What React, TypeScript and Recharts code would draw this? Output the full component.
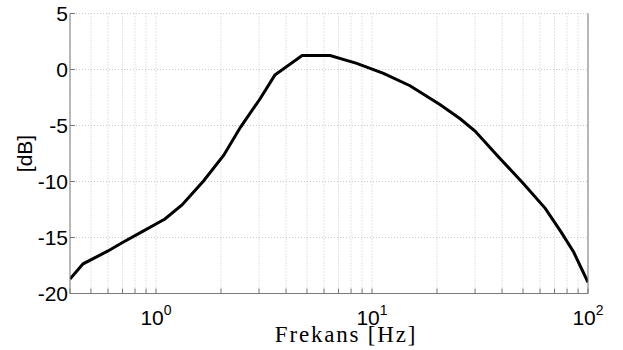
import { CartesianGrid, Label, Line, LineChart, XAxis, YAxis } from "recharts";

// frequency response
const freqHz = [
  0.4, 0.46, 0.6, 0.7, 0.86, 1.0, 1.1, 1.32, 1.66, 2.06, 2.46, 3.04, 3.55, 4.75, 6.4, 8.5,
  11.3, 15, 20.7, 25.6, 30, 37.9, 50.3, 63.4, 75, 85.8, 100,
];
const gainDb = [
  -18.7, -17.35, -16.2, -15.45, -14.5, -13.8, -13.35, -12.1, -9.95, -7.65, -5.16, -2.59, -0.5,
  1.25, 1.25, 0.55, -0.35, -1.45, -3.15, -4.4, -5.5, -7.65, -10.2, -12.4, -14.5, -16.3, -19,
];

const xTicks = [
  0.4, 0.5, 0.6, 0.7, 0.8, 0.9, 1, 2, 3, 4, 5, 6, 7, 8, 9, 10, 20, 30, 40, 50, 60, 70, 80, 90, 100,
];
const decadeExp: Record<number, string> = { 1: "0", 10: "1", 100: "2" };
const yTicks = [-20, -15, -10, -5, 0, 5];

const data = freqHz.map((f, i) => ({ f, db: gainDb[i] }));

const axisColor = "#7a7a7a";
const sans = "'Liberation Sans', Arial, sans-serif";

function DecadeTick(props: any) {
  const { x, y, payload } = props;
  const exp = decadeExp[payload.value];
  if (exp === undefined) return <g />;
  return (
    <text x={x} y={y + 31} textAnchor="middle" fontFamily={sans} fontSize={21} fill="#000">
      10
      <tspan dy={-10} fontSize={14}>
        {exp}
      </tspan>
    </text>
  );
}

const NoTick = () => <g />;

export default function App() {
  return (
    <div>
      <style>{`body{margin:0}`}</style>
      <LineChart
        width={623}
        height={350}
        data={data}
        margin={{ top: 13.5, right: 34, bottom: 0, left: 10 }}
      >
        <CartesianGrid stroke="#c8c8c8" strokeDasharray="1 2" />
        <XAxis
          dataKey="f"
          type="number"
          scale="log"
          domain={[0.4, 100]}
          allowDataOverflow
          ticks={xTicks}
          interval={0}
          height={56.5}
          tickSize={-5}
          tickMargin={5}
          stroke={axisColor}
          tick={DecadeTick}
        >
          <Label
            content={(p: any) => {
              const vb = p.viewBox;
              return (
                <text
                  x={vb.x + vb.width / 2 + 17}
                  y={vb.y + vb.height - 8}
                  textAnchor="middle"
                  fontFamily="'Liberation Serif', 'Times New Roman', serif"
                  fontSize={23}
                  letterSpacing={1.8}
                  fill="#000"
                >
                  Frekans [Hz]
                </text>
              );
            }}
          />
        </XAxis>
        <XAxis
          xAxisId="top"
          orientation="top"
          type="number"
          scale="log"
          domain={[0.4, 100]}
          allowDataOverflow
          ticks={xTicks}
          interval={0}
          height={0}
          tickSize={-5}
          stroke={axisColor}
          tick={NoTick}
        />
        <YAxis
          type="number"
          domain={[-20, 5]}
          ticks={yTicks}
          interval={0}
          width={60}
          tickSize={-5}
          tickMargin={7}
          stroke={axisColor}
          tick={{ fill: "#000", fontSize: 21, fontFamily: sans }}
        >
          <Label
            content={(p: any) => {
              const vb = p.viewBox;
              const cx = vb.x + 14;
              const cy = vb.y + vb.height / 2;
              return (
                <text
                  x={cx}
                  y={cy}
                  transform={`rotate(-90, ${cx}, ${cy})`}
                  textAnchor="middle"
                  dominantBaseline="central"
                  fontFamily={sans}
                  fontSize={21}
                  fill="#000"
                >
                  [dB]
                </text>
              );
            }}
          />
        </YAxis>
        <YAxis
          yAxisId="right"
          orientation="right"
          type="number"
          domain={[-20, 5]}
          ticks={yTicks}
          interval={0}
          width={1}
          tickSize={-5}
          stroke={axisColor}
          tick={NoTick}
        />
        <Line
          type="linear"
          dataKey="db"
          stroke="#000"
          strokeWidth={3}
          dot={false}
          isAnimationActive={false}
        />
      </LineChart>
    </div>
  );
}
